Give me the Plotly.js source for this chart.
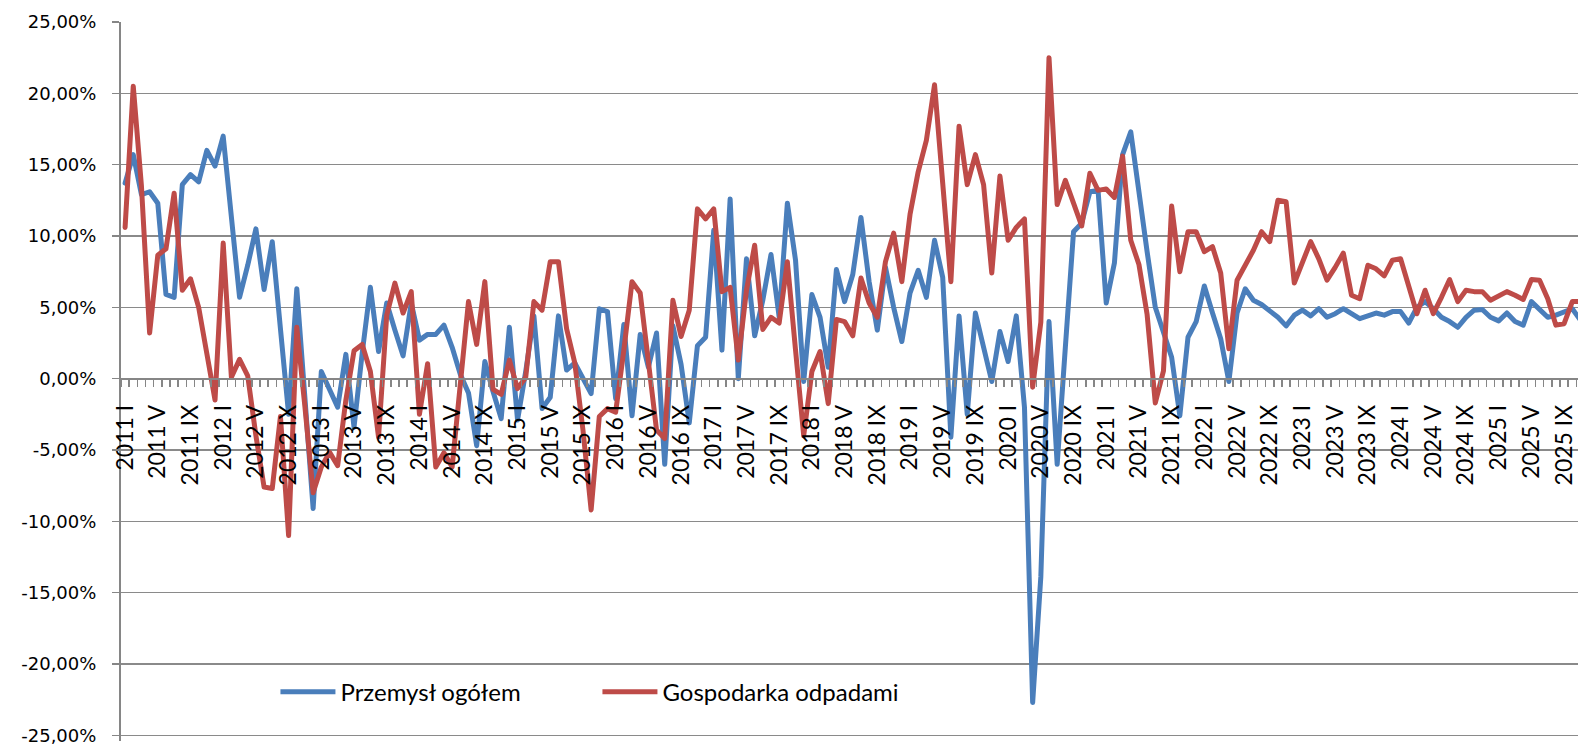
<!DOCTYPE html>
<html>
<head>
<meta charset="utf-8">
<script src="https://cdn.plot.ly/plotly-3.0.1.min.js"></script>
<style>
html,body{margin:0;padding:0;background:#fff;}
#chart{width:1578px;height:744px;}
.scatterlayer .js-line{stroke-linejoin:round;stroke-linecap:round;}
</style>
</head>
<body>
<div id="chart"></div>
<script>
// Categories: monthly, 2011 I – 2025 XI
const years = [2011,2012,2013,2014,2015,2016,2017,2018,2019,2020,2021,2022,2023,2024,2025];
const romanMonths = ['I','II','III','IV','V','VI','VII','VIII','IX','X','XI','XII'];

// Przemysł ogółem (%)
const przemysl = [
 13.7,15.7,12.9,13.1,12.3,5.9,5.7,13.6,14.3,13.8,16.0,14.9,
 17.0,11.3,5.7,7.95,10.5,6.25,9.6,3.5,-2.5,6.3,-1.0,-9.1,
 0.5,-0.8,-2.0,1.7,-3.4,1.8,6.4,1.9,5.3,3.4,1.6,5.3,
 2.7,3.1,3.1,3.75,2.2,0.3,-1.0,-4.7,1.2,-0.9,-2.8,3.6,
 -2.9,0.5,4.4,-2.1,-1.3,4.4,0.6,1.1,0.1,-1.05,4.9,4.7,
 -1.4,3.8,-2.6,3.1,0.8,3.2,-6.0,3.7,1.0,-3.1,2.3,2.9,
 10.4,2.0,12.6,0.0,8.4,3.0,5.5,8.7,4.3,12.3,8.3,-0.2,
 5.9,4.3,0.8,7.65,5.4,7.3,11.3,6.8,3.4,7.8,5.0,2.6,
 6.0,7.6,5.7,9.7,7.1,-4.1,4.4,-2.5,4.6,2.0,-0.2,3.3,
 1.2,4.4,-2.0,-22.7,-13.9,4.0,-6.0,2.2,10.3,10.9,13.1,13.2,
 5.3,8.1,15.7,17.3,12.9,8.9,5.0,3.1,1.5,-2.6,2.9,4.0,
 6.5,4.6,2.8,-0.2,4.6,6.3,5.5,5.2,4.75,4.3,3.7,4.45,
 4.8,4.4,4.9,4.3,4.55,4.9,4.55,4.2,4.4,4.6,4.45,4.7,
 4.7,3.9,5.0,5.4,4.9,4.3,4.0,3.6,4.3,4.8,4.85,4.3,
 4.05,4.6,4.0,3.75,5.4,4.9,4.3,4.45,4.7,4.9,4.1
];

// Gospodarka odpadami (%)
const odpady = [
 10.6,20.5,13.5,3.2,8.65,9.1,13.0,6.2,7.0,5.0,1.75,-1.5,
 9.5,0.1,1.35,0.2,-4.0,-7.6,-7.7,-2.65,-11.0,3.6,-2.0,-8.0,
 -6.2,-5.15,-6.1,-1.5,1.95,2.4,0.5,-4.1,4.45,6.7,4.6,6.1,
 -2.5,1.05,-6.2,-5.2,-6.2,-0.5,5.4,2.4,6.8,-0.75,-1.1,1.3,
 -0.7,0.1,5.4,4.8,8.2,8.2,3.5,1.1,-3.6,-9.2,-2.65,-2.1,
 -2.35,2.0,6.8,6.0,1.3,-3.6,-4.2,5.5,2.95,4.8,11.9,11.2,
 11.9,6.1,6.4,1.3,6.2,9.35,3.45,4.3,3.9,8.2,2.0,-4.0,
 0.5,1.9,-1.75,4.15,4.0,3.0,7.05,5.3,4.3,8.2,10.2,6.8,
 11.5,14.5,16.7,20.6,13.7,6.8,17.7,13.6,15.7,13.6,7.4,14.2,
 9.7,10.6,11.2,-0.6,3.95,22.5,12.2,13.9,12.3,10.7,14.4,13.2,
 13.3,12.7,15.6,9.7,8.0,4.5,-1.7,0.55,12.1,7.5,10.3,10.3,
 8.9,9.25,7.4,2.1,6.9,7.95,9.0,10.3,9.6,12.5,12.4,6.7,
 8.1,9.6,8.4,6.9,7.8,8.8,5.85,5.6,7.95,7.7,7.2,8.3,
 8.4,6.4,4.55,6.2,4.55,5.7,6.95,5.4,6.2,6.1,6.1,5.5,
 5.85,6.1,5.85,5.55,6.95,6.9,5.6,3.75,3.85,5.4,5.4
];

const seriesNames = ['Przemysł ogółem','Gospodarka odpadami'];

const categories = [];
years.forEach(y => romanMonths.forEach(m => categories.push(y + ' ' + m)));
const n = przemysl.length;
const cats = categories.slice(0, n);
const xIdx = cats.map((c, i) => i);
const tickVals = xIdx.filter(i => i % 4 === 0);
const tickText = tickVals.map(i => cats[i]);
const yTicks = [-25,-20,-15,-10,-5,0,5,10,15,20,25];
const yTickText = yTicks.map(v => v.toFixed(2).replace('.', ',') + '%');

const traces = [
  {x: xIdx, y: przemysl, name: seriesNames[0], type: 'scatter', mode: 'lines',
   line: {color: '#4A7EBB', width: 5}, text: cats, hoverinfo: 'text+y'},
  {x: xIdx, y: odpady, name: seriesNames[1], type: 'scatter', mode: 'lines',
   line: {color: '#BE4B48', width: 5}, text: cats, hoverinfo: 'text+y'}
];

const layout = {
  width: 1578, height: 744,
  margin: {l: 121, r: 0, t: 22, b: 3.3},
  paper_bgcolor: '#ffffff', plot_bgcolor: '#ffffff',
  showlegend: true,
  legend: {
    orientation: 'h', x: 0.106, y: 0.068, xanchor: 'left', yanchor: 'middle',
    font: {family: 'Lato, sans-serif', size: 24, color: '#000'},
    bgcolor: 'rgba(0,0,0,0)', itemwidth: 55, entrywidth: 252, traceorder: 'normal'
  },
  xaxis: {
    range: [-0.5, 177.7], anchor: 'free', position: 25.4 / 50.4,
    showline: true, linecolor: '#868686', linewidth: 2,
    showgrid: false, zeroline: false,
    tickmode: 'array', tickvals: tickVals, ticktext: tickText,
    tickangle: -90, ticks: '', ticklabelstandoff: 16,
    tickfont: {family: 'Lato, sans-serif', size: 23, color: '#000'},
    minor: {tickmode: 'linear', tick0: -0.5, dtick: 1, ticks: 'outside', ticklen: 7,
            tickcolor: '#868686', tickwidth: 1.5, showgrid: false}
  },
  yaxis: {
    range: [-25.4, 25],
    tickmode: 'array', tickvals: yTicks, ticktext: yTickText,
    ticklabeloverflow: 'allow',
    showline: true, linecolor: '#868686', linewidth: 2,
    showgrid: true, gridcolor: '#8a8a8a', gridwidth: 1.5,
    zeroline: false,
    ticks: 'outside', ticklen: 7, tickcolor: '#868686', tickwidth: 1.5,
    ticklabelstandoff: 12,
    tickfont: {family: 'DejaVu Sans, sans-serif', size: 18, color: '#000'}
  }
};

Plotly.newPlot('chart', traces, layout, {displayModeBar: false, staticPlot: true});
</script>
</body>
</html>
